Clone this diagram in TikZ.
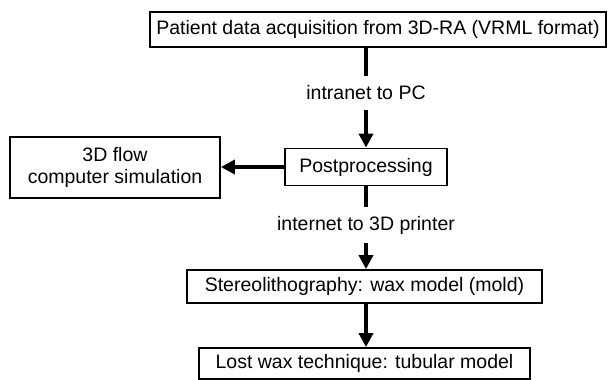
\documentclass[tikz,border=0pt]{standalone}
\usepackage{fontspec}
\setmainfont{Liberation Sans}
\usetikzlibrary{arrows.meta}
\begin{document}
\begin{tikzpicture}[x=1pt,y=-1pt,
  box/.style={draw=black,line width=1.8pt,inner sep=0pt,font=\fontsize{19.5}{22}\selectfont,align=center},
  lbl/.style={inner sep=0pt,font=\fontsize{19.5}{22}\selectfont},
  conn/.style={line width=4pt},
  arr/.style={line width=4pt,-{Triangle[width=14pt,length=14pt]}}]
\useasboundingbox[fill=white] (0,0) rectangle (608,380);
\node[box,minimum width=456pt,minimum height=35pt] (top) at (378,29.5) {Patient data acquisition from 3D-RA (VRML format)};
\node[box,minimum width=162pt,minimum height=37pt] (post) at (366,167) {Postprocessing};
\node[box,minimum width=210pt,minimum height=61pt] (flow) at (115,167.5) {3D flow\\computer simulation};
\node[box,minimum width=355pt,minimum height=33pt] (stereo) at (364.5,286.5) {Stereolithography: wax model (mold)};
\node[box,minimum width=331pt,minimum height=31pt] (lost) at (364.5,363.5) {Lost wax technique: tubular model};
\node[lbl,minimum height=34pt] (l1) at (366,93) {intranet to PC};
\node[lbl,minimum height=36pt] (l2) at (366,225) {internet to 3D printer};
\draw[conn] (top.south -| l1) -- (l1.north);
\draw[arr] (l1.south) -- (post.north);
\draw[conn] (post.south) -- (l2.north);
\draw[arr] (l2.south) -- (stereo.north -| l2);
\draw[arr] (stereo.south -| l2) -- (lost.north -| l2);
\draw[arr] (post.west) -- (post.west -| flow.east);
\end{tikzpicture}
\end{document}
